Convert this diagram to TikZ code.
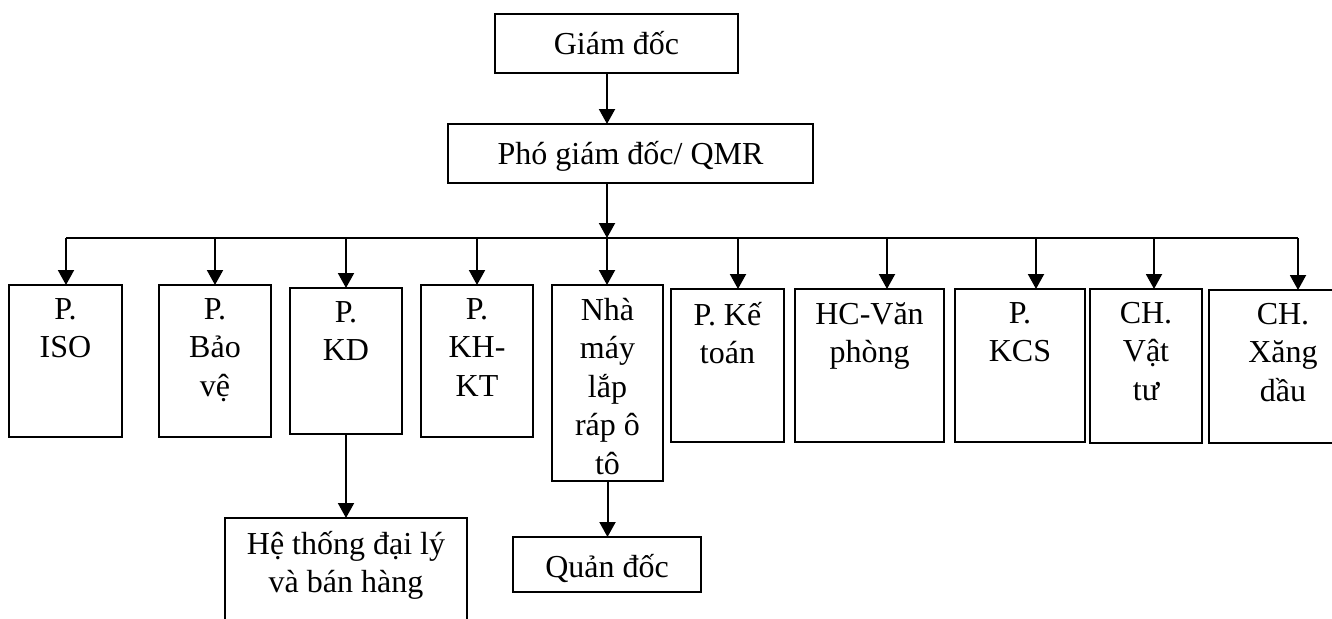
\documentclass[tikz,border=0pt]{standalone}
\usepackage{fontspec}
\setmainfont{Liberation Serif}
\usetikzlibrary{arrows.meta}
\newcommand\boxfont{\fontsize{32}{38.5}\selectfont}
\begin{document}
\begin{tikzpicture}[x=1pt,y=-1pt,
  unit/.style={draw, line width=2pt, inner sep=0pt, outer sep=0pt,
    anchor=north west, minimum width=#1},
  txt/.style={anchor=north, inner sep=0pt, yshift=-13pt, align=center,
    font=\boxfont, execute at begin node=\strut},
  link/.style={line width=2pt},
  arrow/.style={line width=2pt, -{Triangle[width=16pt,length=15pt]}}
]
\useasboundingbox (0,0) rectangle (1332,618);

% management
\node[unit=243pt, minimum height=59pt, label={[txt]north:Giám đốc}] (gd) at (495,14) {};
\node[unit=365pt, minimum height=59pt, label={[txt]north:Phó giám đốc/ QMR}] (pgd) at (448,124) {};

% departments
\node[unit=113pt, minimum height=152pt, label={[txt]north:P.\\ISO}] (iso) at (9,285) {};
\node[unit=112pt, minimum height=152pt, label={[txt]north:P.\\Bảo\\vệ}] (bv) at (159,285) {};
\node[unit=112pt, minimum height=146pt, label={[txt]north:P.\\KD}] (kd) at (290,288) {};
\node[unit=112pt, minimum height=152pt, label={[txt]north:P.\\KH-\\KT}] (khkt) at (421,285) {};
\node[unit=111pt, minimum height=196pt, label={[txt]north:Nhà\\máy\\lắp\\ráp ô\\tô}] (nm) at (552,285) {};
\node[unit=113pt, minimum height=153pt, label={[txt]north:P. Kế\\toán}] (kt) at (671,289) {};
\node[unit=149pt, minimum height=153pt, label={[txt]north:HC-Văn\\phòng}] (hc) at (795,289) {};
\node[unit=130pt, minimum height=153pt, label={[txt]north:P.\\KCS}] (kcs) at (955,289) {};
\node[unit=112pt, minimum height=154pt, label={[txt]north:CH.\\Vật\\tư}] (vt) at (1090,289) {};
\node[unit=148pt, minimum height=153pt, label={[txt]north:CH.\\Xăng\\dầu}] (xd) at (1209,290) {};

% lower level
\node[unit=242pt, minimum height=130pt, label={[txt]north:Hệ thống đại lý\\và bán hàng}] (hts) at (225,518) {};
\node[unit=188pt, minimum height=55pt, label={[txt]north:Quản đốc}] (qd) at (513,537) {};

% distribution bus
\coordinate (b1) at (66,238);
\coordinate (b2) at (215,238);
\coordinate (b3) at (346,238);
\coordinate (b4) at (477,238);
\coordinate (b5) at (607,238);
\coordinate (b6) at (738,238);
\coordinate (b7) at (887,238);
\coordinate (b8) at (1036,238);
\coordinate (b9) at (1154,238);
\coordinate (b10) at (1298,238);
\draw[link] (b1) -- (b10);

% connectors
\draw[arrow] (gd.south -| b5) -- (pgd.north -| b5);
\draw[arrow] (pgd.south -| b5) -- (b5);
\draw[arrow] (b1) -- (iso.north -| b1);
\draw[arrow] (b2) -- (bv.north -| b2);
\draw[arrow] (b3) -- (kd.north -| b3);
\draw[arrow] (b4) -- (khkt.north -| b4);
\draw[arrow] (b5) -- (nm.north -| b5);
\draw[arrow] (b6) -- (kt.north -| b6);
\draw[arrow] (b7) -- (hc.north -| b7);
\draw[arrow] (b8) -- (kcs.north -| b8);
\draw[arrow] (b9) -- (vt.north -| b9);
\draw[arrow] (b10) -- (xd.north -| b10);
\draw[arrow] (kd.south) -- (kd.south |- hts.north);
\draw[arrow] (nm.south) -- (nm.south |- qd.north);
\end{tikzpicture}
\end{document}
